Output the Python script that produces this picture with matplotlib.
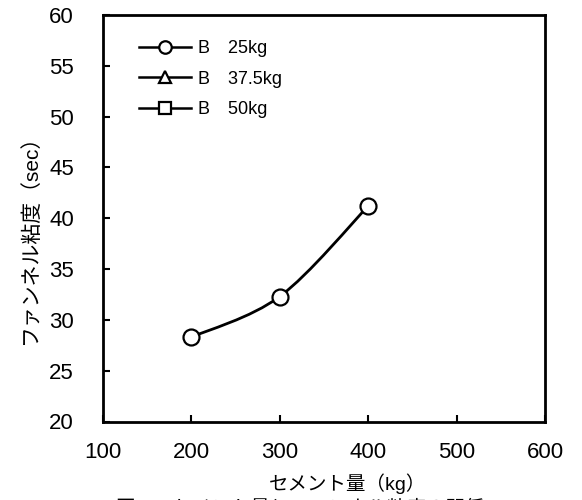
import matplotlib
matplotlib.use("Agg")
import matplotlib.pyplot as plt
from matplotlib.path import Path
from matplotlib.patches import PathPatch

plt.rcParams["font.family"] = ["Liberation Sans", "Noto Sans CJK JP", "DejaVu Sans"]

# values
cement = [200, 300, 400]
funnel_25 = [28.3, 32.3, 41.2]
cement_375, funnel_375 = [], []
cement_50, funnel_50 = [], []

series_labels = ["B\u300025kg", "B\u300037.5kg", "B\u300050kg"]
x_ticks = [100, 200, 300, 400, 500, 600]
y_ticks = [20, 25, 30, 35, 40, 45, 50, 55, 60]


def smooth_path(xs, ys, tension=1.0 / 6):
    """Excel-like smoothed line: cubic bezier through every point."""
    pts = list(zip(xs, ys))
    verts = [pts[0]]
    codes = [Path.MOVETO]
    for i in range(len(pts) - 1):
        p0 = pts[i - 1] if i > 0 else pts[i]
        p1, p2 = pts[i], pts[i + 1]
        p3 = pts[i + 2] if i + 2 < len(pts) else pts[i + 1]
        c1 = (p1[0] + (p2[0] - p0[0]) * tension, p1[1] + (p2[1] - p0[1]) * tension)
        c2 = (p2[0] - (p3[0] - p1[0]) * tension, p2[1] - (p3[1] - p1[1]) * tension)
        verts += [c1, c2, p2]
        codes += [Path.CURVE4] * 3
    return Path(verts, codes)


fig = plt.figure(figsize=(5.82, 5.0), dpi=100)
ax = fig.add_axes([103 / 582, 1 - 421.5 / 500, 442 / 582, 406.5 / 500])

ax.add_patch(PathPatch(smooth_path(cement, funnel_25), fill=False,
                       color="black", lw=2.0, zorder=2))
style = dict(color="black", lw=1.8, markerfacecolor="white",
             markeredgecolor="black", markeredgewidth=1.6)
ax.plot(cement, funnel_25, ls="none", marker="o", markersize=11.5, zorder=3, **style)

# legend proxies (line + marker)
h1, = ax.plot([], [], marker="o", markersize=9, label=series_labels[0], **style)
h2, = ax.plot(cement_375, funnel_375, marker="^", markersize=8, label=series_labels[1], **style)
h3, = ax.plot(cement_50, funnel_50, marker="s", markersize=8, label=series_labels[2], **style)
ax.legend(handles=[h1, h2, h3], loc="upper left",
          bbox_to_anchor=((139 - 103) / 442, (421.5 - 40) / 406.5),
          frameon=False, fontsize=13, handlelength=2.9, handletextpad=0.35,
          labelspacing=0.75, borderpad=0, borderaxespad=0)

ax.set_xlim(100, 600)
ax.set_ylim(20, 60)
ax.set_xticks(x_ticks)
ax.set_yticks(y_ticks)
ax.tick_params(direction="in", length=5, width=1.5, labelsize=16,
               top=False, right=False)
ax.tick_params(axis="x", pad=15)
ax.tick_params(axis="y", pad=21)
for s in ax.spines.values():
    s.set_linewidth(2)

ax.set_xlabel("セメント量（kg）", fontsize=14)
ax.set_ylabel("ファンネル粘度（sec）", fontsize=15)
ax.xaxis.set_label_coords((348 - 103) / 442, (421.5 - 473) / 406.5)
ax.yaxis.set_label_coords((40 - 103) / 442, (421.5 - 233.5) / 406.5)

# figure caption, cut off by the bottom edge as in the reference
fig.text(300 / 582, 1 - 499.5 / 500, "図-4　セメント量とファンネル粘度の関係",
         ha="center", va="top", fontsize=14)

fig.savefig("out.png", dpi=100)
